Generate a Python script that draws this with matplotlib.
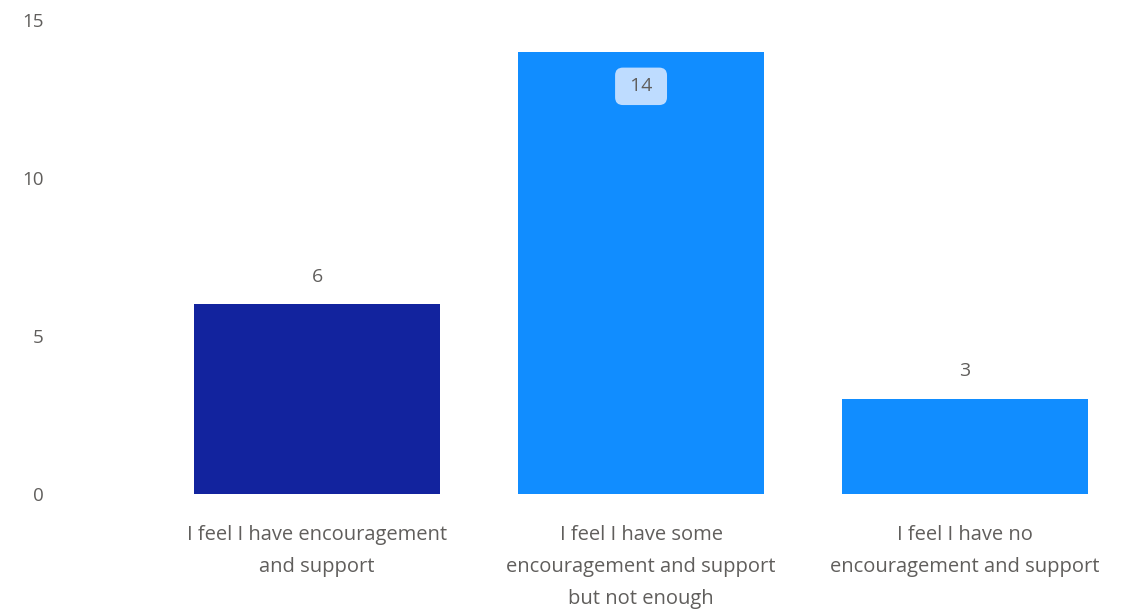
import matplotlib.pyplot as plt

categories = [
    "I feel I have encouragement\nand support",
    "I feel I have some\nencouragement and support\nbut not enough",
    "I feel I have no\nencouragement and support",
]
values = [6, 14, 3]
colors = ["#12239E", "#118DFF", "#118DFF"]

plt.rcParams['font.family'] = ['Open Sans', 'DejaVu Sans']
grey = "#605E5C"

fig = plt.figure(figsize=(11.47, 6.13), dpi=100)
W, H = 1147, 613
ax = fig.add_axes([55 / W, (H - 494) / H, (1127 - 55) / W, (494 - 20) / H])

x = list(range(len(categories)))
bars = ax.bar(x, values, width=0.76, color=colors)

ax.set_xlim(-0.809, 2.5)
ax.set_ylim(0, 15)
ax.set_yticks([0, 5, 10, 15])
ax.set_xticks(x)
ax.set_xticklabels(categories, linespacing=1.8)
ax.tick_params(axis='x', length=0, colors=grey, labelsize=14.5, pad=22)
ax.tick_params(axis='y', length=0, colors=grey, labelsize=13.5, pad=8)
for s in ax.spines.values():
    s.set_visible(False)

for b, v in zip(bars, values):
    cx = b.get_x() + b.get_width() / 2
    if v == max(values):
        ax.annotate(" 14 ".replace("14", str(v)), (cx, v), xytext=(0, -25),
                    textcoords='offset points', ha='center', va='center',
                    fontsize=14, color=grey,
                    bbox=dict(boxstyle='round,pad=0.5,rounding_size=0.4',
                              fc='#BEDCFF', ec='none'))
    else:
        ax.annotate(str(v), (cx, v), xytext=(0, 20), textcoords='offset points',
                    ha='center', va='center', fontsize=14, color=grey)

fig.savefig('out.png', dpi=100)
